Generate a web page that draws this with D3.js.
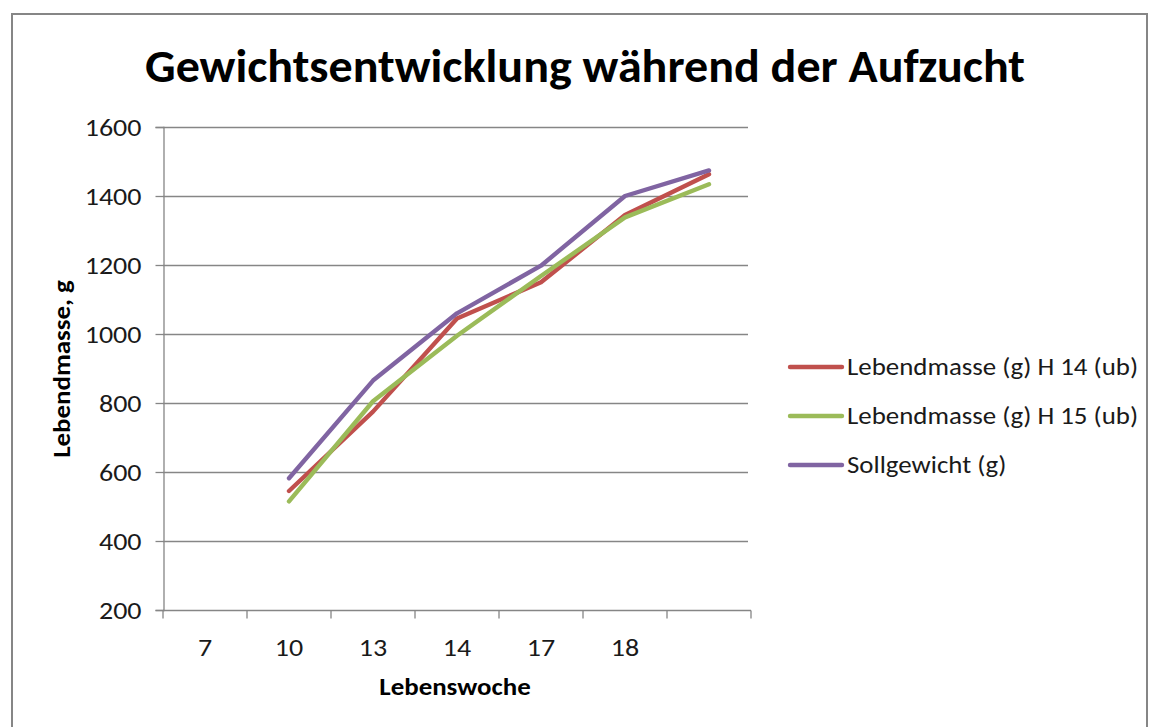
<!DOCTYPE html>
<html>
<head>
<meta charset="utf-8">
<script src="https://cdn.jsdelivr.net/npm/d3@7"></script>
<style>
  html, body { margin: 0; padding: 0; background: #fff; }
  svg { display: block; font-family: Calibri, Carlito, "Open Sans", "Noto Sans", sans-serif; }
</style>
</head>
<body>
<svg id="chart" width="1149" height="727"></svg>
<script>
// Weekly live weight during rearing, compared with the target weight
const weeks = ["7", "10", "13", "14", "17", "18", ""];
const h14 = [null, 545, 775, 1045, 1150, 1345, 1463];
const h15 = [null, 515, 805, 995, 1168, 1338, 1434];
const target = [null, 582, 865, 1060, 1198, 1400, 1474];
const seriesNames = ["Lebendmasse (g) H 14 (ub)", "Lebendmasse (g) H 15 (ub)", "Sollgewicht (g)"];
const seriesColors = ["#C0504D", "#9BBB59", "#8064A2"];
const yTicks = [200, 400, 600, 800, 1000, 1200, 1400, 1600];

const series = [h14, h15, target].map((values, i) => ({
  name: seriesNames[i], color: seriesColors[i], values
}));

const svg = d3.select("#chart");
const plot = { left: 163, right: 751, top: 127, bottom: 610 };
const gray = "#868686";
const textColor = "#1a1a1a";
const widen = 1.12; // slightly wide lettering

// Stretch each text element horizontally by a constant factor
function stretch(sel) {
  sel.each(function () {
    const len = this.getComputedTextLength();
    if (len > 0) {
      d3.select(this)
        .attr("textLength", len * widen)
        .attr("lengthAdjust", "spacingAndGlyphs");
    }
  });
}

// Chart area frame
svg.append("rect")
  .attr("x", 12).attr("y", 14)
  .attr("width", 1135).attr("height", 740)
  .attr("fill", "#fff").attr("stroke", gray).attr("stroke-width", 2);

const x = d3.scaleBand().domain(weeks).range([plot.left, plot.right]).paddingInner(0).paddingOuter(0);
const y = d3.scaleLinear().domain([200, 1600]).range([plot.bottom, plot.top]);

// Horizontal gridlines
svg.append("g")
  .selectAll("line")
  .data(yTicks.filter(t => t !== 200))
  .join("line")
  .attr("x1", plot.left).attr("x2", plot.right - 3)
  .attr("y1", d => y(d) + 0.5).attr("y2", d => y(d) + 0.5)
  .attr("stroke", gray).attr("stroke-width", 1.3);

// Y axis
const yAxis = svg.append("g")
  .attr("transform", `translate(${plot.left + 0.5},0)`)
  .call(d3.axisLeft(y).tickValues(yTicks).tickSize(8).tickPadding(14).tickFormat(d3.format("d")));
yAxis.select(".domain").attr("stroke", gray).attr("stroke-width", 1.3);
yAxis.selectAll(".tick line").attr("stroke", gray).attr("stroke-width", 1.3);
yAxis.selectAll(".tick text")
  .attr("font-size", 25).attr("fill", textColor)
  .attr("font-family", "Calibri, Carlito, 'Open Sans', sans-serif")
  .call(stretch);

// X axis with ticks on band boundaries
const xAxis = svg.append("g")
  .attr("transform", `translate(0,${plot.bottom + 0.5})`);
xAxis.append("line")
  .attr("x1", plot.left).attr("x2", plot.right)
  .attr("stroke", gray).attr("stroke-width", 1.3);
const boundaries = weeks.map(w => x(w)).concat([x(weeks[weeks.length - 1]) + x.bandwidth()]);
xAxis.selectAll("line.tick")
  .data(boundaries)
  .join("line")
  .attr("class", "tick")
  .attr("x1", d => d).attr("x2", d => d)
  .attr("y1", 0).attr("y2", 8)
  .attr("stroke", gray).attr("stroke-width", 1.3);
xAxis.selectAll("text")
  .data(weeks)
  .join("text")
  .attr("x", d => x(d) + x.bandwidth() / 2)
  .attr("y", 45)
  .attr("text-anchor", "middle")
  .attr("font-size", 25).attr("fill", textColor)
  .text(d => d)
  .call(stretch);

// Series lines
const line = d3.line()
  .defined(d => d.v != null)
  .x(d => x(d.w) + x.bandwidth() / 2)
  .y(d => y(d.v));

svg.append("g")
  .selectAll("path")
  .data(series)
  .join("path")
  .attr("d", s => line(s.values.map((v, i) => ({ w: weeks[i], v }))))
  .attr("fill", "none")
  .attr("stroke", s => s.color)
  .attr("stroke-width", 4.4)
  .attr("stroke-linejoin", "round")
  .attr("stroke-linecap", "round");

// Title
svg.append("text")
  .attr("x", 585).attr("y", 82)
  .attr("text-anchor", "middle")
  .attr("font-size", 46).attr("font-weight", "bold").attr("fill", "#000")
  .attr("textLength", 880).attr("lengthAdjust", "spacingAndGlyphs")
  .text("Gewichtsentwicklung während der Aufzucht");

// Axis titles
svg.append("text")
  .attr("x", 455).attr("y", 695)
  .attr("text-anchor", "middle")
  .attr("font-size", 24).attr("font-weight", "bold").attr("fill", "#000")
  .text("Lebenswoche")
  .call(stretch);

svg.append("text")
  .attr("transform", "translate(70,369) rotate(-90)")
  .attr("text-anchor", "middle")
  .attr("font-size", 24).attr("font-weight", "bold").attr("fill", "#000")
  .text("Lebendmasse, g")
  .call(stretch);

// Legend
const legend = svg.append("g")
  .selectAll("g")
  .data(series)
  .join("g")
  .attr("transform", (d, i) => `translate(790,${367 + i * 49})`);
legend.append("line")
  .attr("x1", 0).attr("x2", 52)
  .attr("stroke", d => d.color).attr("stroke-width", 4.4)
  .attr("stroke-linecap", "round");
legend.append("text")
  .attr("x", 57).attr("y", 8)
  .attr("font-size", 24).attr("fill", textColor)
  .text(d => d.name)
  .call(stretch);
</script>
</body>
</html>
